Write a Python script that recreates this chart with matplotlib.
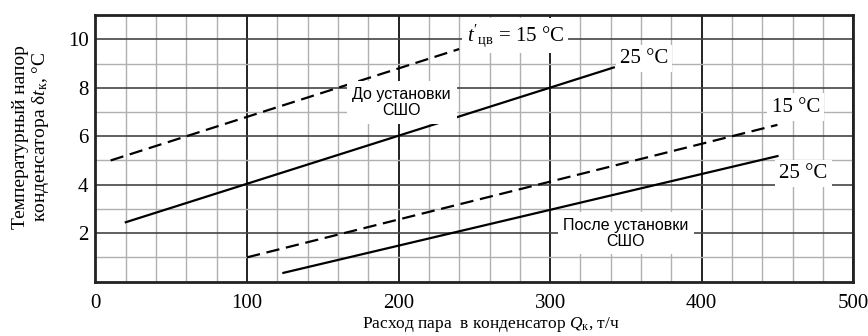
import matplotlib.pyplot as plt
import numpy as np
from matplotlib.ticker import MultipleLocator

plt.rcParams['font.family'] = 'Liberation Serif'
plt.rcParams['mathtext.fontset'] = 'custom'
plt.rcParams['mathtext.rm'] = 'Liberation Serif'
plt.rcParams['mathtext.it'] = 'Liberation Serif:italic'

# end points of each curve: steam flow (t/h), temperature head (°C)
before_15_x = [10, 240]
before_15_y = [5.0, 9.6]
before_25_x = [20, 342]
before_25_y = [2.45, 8.84]
after_15_x = [100, 450]
after_15_y = [1.0, 6.47]
after_25_x = [124, 450]
after_25_y = [0.36, 5.18]

x_ticks = [0, 100, 200, 300, 400, 500]
y_ticks = [2, 4, 6, 8, 10]

fig = plt.figure(figsize=(8.68, 3.36), dpi=100)
ax = fig.add_axes([0.110, 0.162, 0.873, 0.793])

ax.set_xlim(0, 500)
ax.set_ylim(0, 11)
ax.set_xticks(x_ticks)
ax.set_yticks(y_ticks)
ax.xaxis.set_minor_locator(MultipleLocator(20))
ax.yaxis.set_minor_locator(MultipleLocator(1))
ax.grid(which='minor', color='#b0b0b0', lw=1.0)
ax.grid(which='major', axis='x', color='#222222', lw=1.4)
ax.grid(which='major', axis='y', color='#444444', lw=1.2)
ax.set_axisbelow(True)
ax.tick_params(which='both', length=0, labelsize=15)
ax.tick_params(axis='x', pad=9)
ax.tick_params(axis='y', pad=5)
for s in ax.spines.values():
    s.set_linewidth(2)
    s.set_color('#222222')

kw = dict(color='black', lw=1.6)
dash = (0, (6, 3))
ax.plot(before_15_x, before_15_y, ls=dash, **kw)
ax.plot(before_25_x, before_25_y, **kw)
ax.plot(after_15_x, after_15_y, ls=dash, **kw)
ax.plot(after_25_x, after_25_y, **kw)

box = dict(facecolor='white', edgecolor='none', pad=3)
ax.text(277, 10.15, r"$t'_{\mathrm{цв}}$ = 15 °C", fontsize=15, ha='center', va='center', bbox=box)
ax.text(362, 9.2, '25 °C', fontsize=15, ha='center', va='center', bbox=box)
ax.text(462, 7.2, '15 °C', fontsize=15, ha='center', va='center', bbox=box)
ax.text(467, 4.45, '25 °C', fontsize=15, ha='center', va='center', bbox=box)

sans_box = dict(facecolor='white', edgecolor='none', pad=4)
ax.text(202, 7.4, 'До установки\nСШО', family='Liberation Sans', fontsize=11.5,
        ha='center', va='center', linespacing=1.1, bbox=sans_box)
ax.text(350, 2.0, 'После установки\nСШО', family='Liberation Sans', fontsize=11.5,
        ha='center', va='center', linespacing=1.1, bbox=sans_box)

fig.text(491 / 868, 1 - 324 / 336, r'Расход пара  в конденсатор $Q_{\mathrm{к}}$, т/ч',
         fontsize=12.5, ha='center', va='center')
fig.text(31.5 / 868, 1 - 137 / 336, 'Температурный напор\n' + r'конденсатора δ$t_{\mathrm{к}}$, °C',
         fontsize=14, rotation=90, ha='center', va='center', linespacing=1.05)

fig.savefig('out.png', dpi=100)
